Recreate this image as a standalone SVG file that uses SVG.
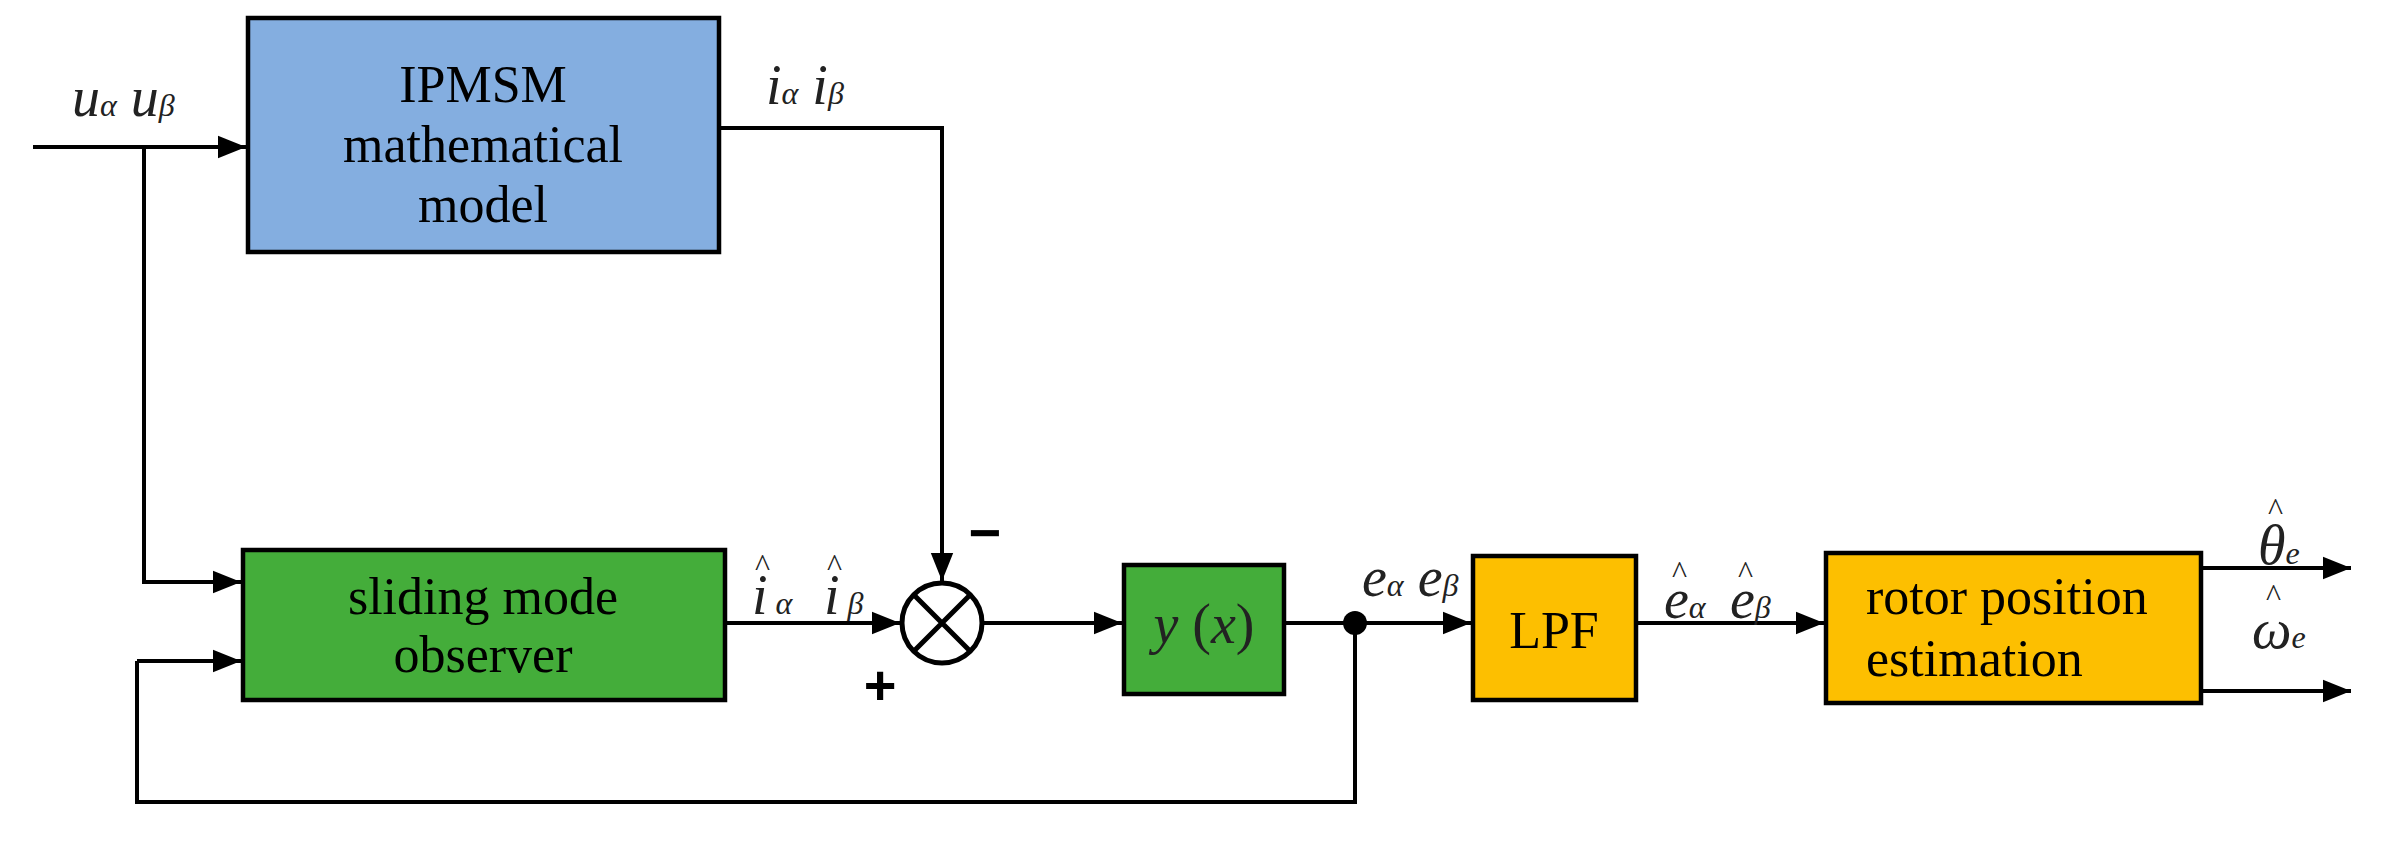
<svg xmlns="http://www.w3.org/2000/svg" width="2382" height="844" viewBox="0 0 2382 844">
<style>
.box{stroke:#000;stroke-width:4.5}
.ln{stroke:#000;stroke-width:4;fill:none}
.t{font-family:"Liberation Serif",serif;font-size:52px;fill:#000;text-anchor:middle}
.l{font-family:"Liberation Serif",serif;font-size:52px;fill:#000}
.m{font-family:"Liberation Serif","DejaVu Serif",serif;font-style:italic;font-size:56px;fill:#222}
.h{font-family:"Liberation Serif",serif;font-size:32px;fill:#222}
.s{font-size:32px}
</style>
<defs>
<marker id="A" viewBox="0 0 10 10" refX="10" refY="5" markerWidth="28" markerHeight="28" markerUnits="userSpaceOnUse" orient="auto"><path d="M0,1L10,5L0,9z" fill="#000"/></marker>
</defs>
<rect width="2382" height="844" fill="#fff"/>
<g id="connectors">
<path class="ln" d="M33,147H246" marker-end="url(#A)"/>
<path class="ln" d="M144,147V582H241" marker-end="url(#A)"/>
<path class="ln" d="M137,661V802H1355V623"/>
<path class="ln" d="M137,661H241" marker-end="url(#A)"/>
<path class="ln" d="M719,128H942V581" marker-end="url(#A)"/>
<path class="ln" d="M725,623H900" marker-end="url(#A)"/>
<path class="ln" d="M982,623H1122" marker-end="url(#A)"/>
<path class="ln" d="M1284,623H1471" marker-end="url(#A)"/>
<path class="ln" d="M1636,623H1824" marker-end="url(#A)"/>
<path class="ln" d="M2201,568H2351" marker-end="url(#A)"/>
<path class="ln" d="M2201,691H2351" marker-end="url(#A)"/>
<circle cx="1355" cy="623" r="12" fill="#000"/>
</g>
<g id="ipmsm"><rect class="box" x="248" y="18" width="471" height="234" fill="#84aee0"/>
<text class="t" x="483" y="102">IPMSM</text><text class="t" x="483" y="162">mathematical</text><text class="t" x="483" y="222">model</text></g>
<g id="smo"><rect class="box" x="243" y="550" width="482" height="150" fill="#44ad3a"/>
<text class="t" x="483" y="614">sliding mode</text><text class="t" x="483" y="672">observer</text></g>
<g id="sum"><circle cx="942" cy="623" r="40" fill="#fff" stroke="#000" stroke-width="5"/>
<path d="M914,595L970,651M970,595L914,651" stroke="#000" stroke-width="5"/>
<text x="985" y="552" style="font-family:'Liberation Sans',sans-serif;font-size:56px;font-weight:bold" text-anchor="middle">−</text>
<text x="880" y="704" style="font-family:'Liberation Sans',sans-serif;font-size:56px;font-weight:bold" text-anchor="middle">+</text></g>
<g id="yx"><rect class="box" x="1124" y="565" width="160" height="129" fill="#44ad3a"/>
<text class="m" x="1204" y="643" text-anchor="middle">y<tspan font-style="normal"> (</tspan>x<tspan font-style="normal">)</tspan></text></g>
<g id="lpf"><rect class="box" x="1473" y="556" width="163" height="144" fill="#fdbf00"/>
<text class="t" x="1554" y="648">LPF</text></g>
<g id="rotor"><rect class="box" x="1826" y="553" width="375" height="150" fill="#fdbf00"/>
<text class="l" x="1866" y="614">rotor position</text><text class="l" x="1866" y="676">estimation</text></g>
<g id="labels">
<text class="m" x="72" y="116">u<tspan class="s">α</tspan> u<tspan class="s">β</tspan></text>
<text class="m" x="766" y="104">i<tspan class="s">α</tspan> i<tspan class="s">β</tspan></text>
<text class="m" x="752" y="614">i<tspan class="s"> α</tspan></text>
<text class="m" x="824" y="614">i<tspan class="s"> β</tspan></text>
<text class="h" x="755" y="576">^</text><text class="h" x="827" y="576">^</text>
<text class="m" x="1362" y="596">e<tspan class="s">α</tspan> e<tspan class="s">β</tspan></text>
<text class="m" x="1664" y="618">e<tspan class="s">α</tspan></text>
<text class="m" x="1730" y="618">e<tspan class="s">β</tspan></text>
<text class="h" x="1672" y="583">^</text><text class="h" x="1738" y="583">^</text>
<text class="m" x="2258" y="564">θ<tspan class="s">e</tspan></text><text class="h" x="2268" y="520">^</text>
<text class="m" x="2252" y="648">ω<tspan class="s">e</tspan></text><text class="h" x="2266" y="606">^</text>
</g>
</svg>
